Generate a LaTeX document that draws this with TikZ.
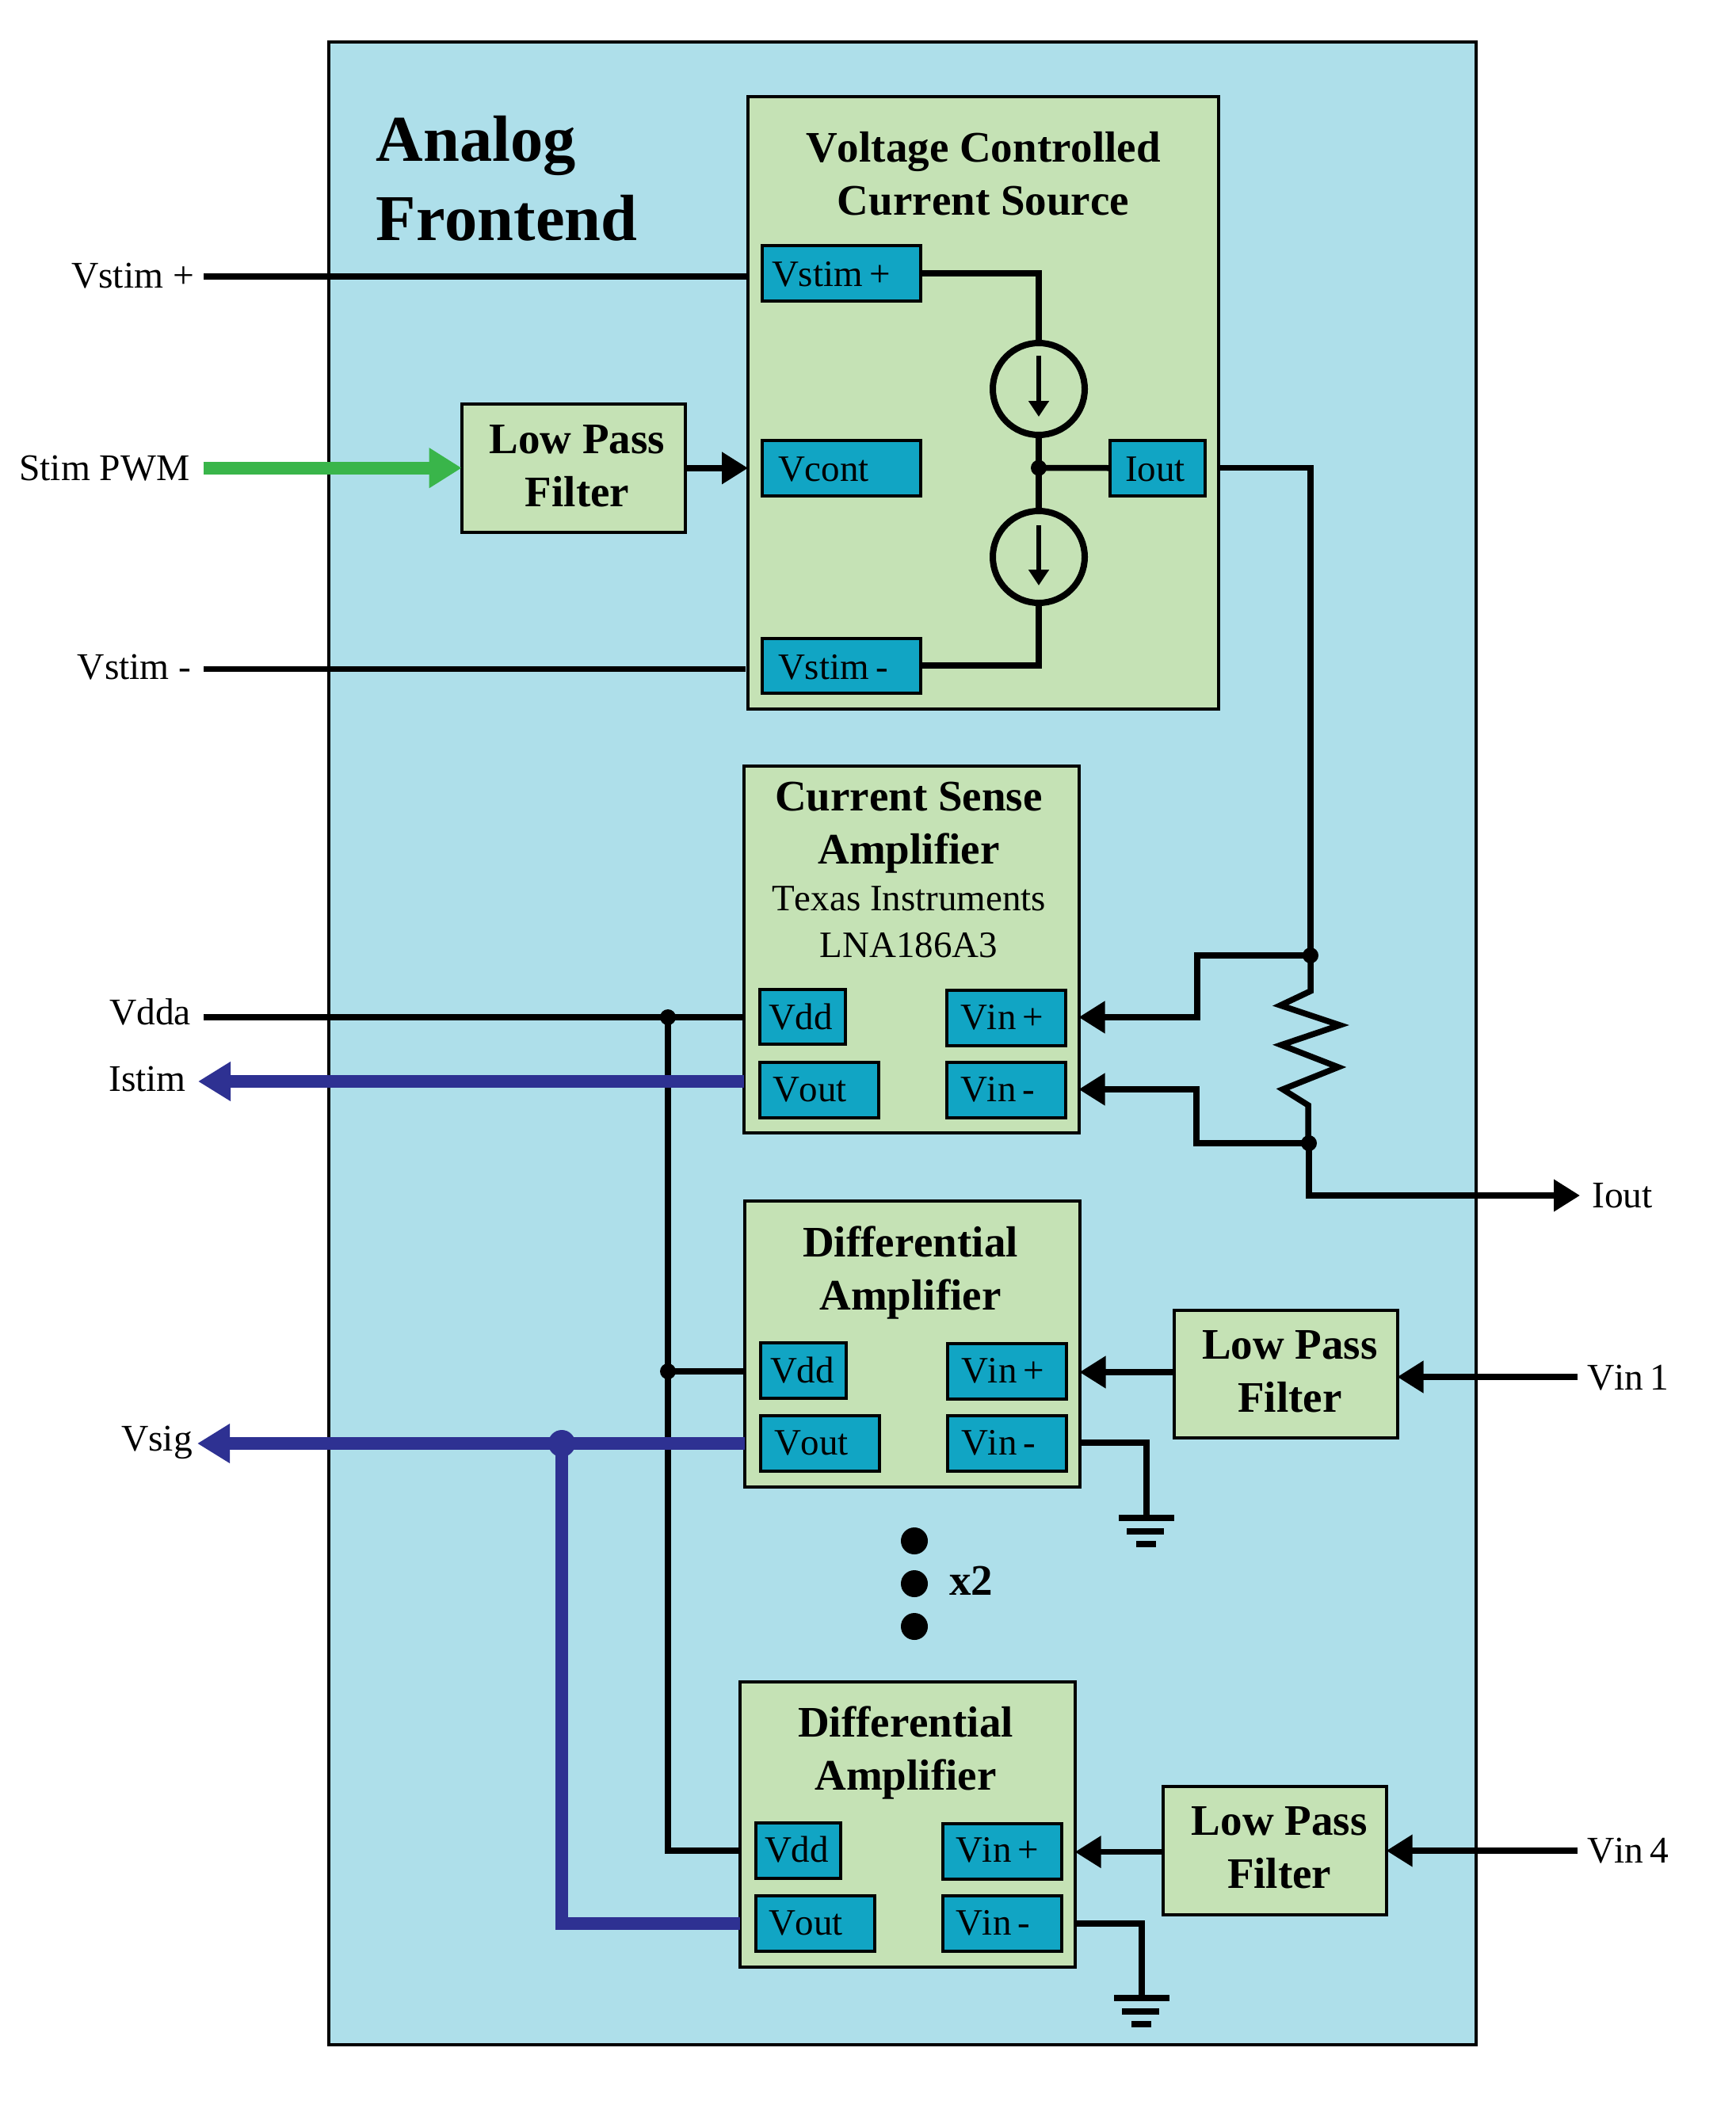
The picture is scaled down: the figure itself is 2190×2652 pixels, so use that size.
\documentclass[tikz,border=0pt]{standalone}
\usepackage{fontspec}
\setmainfont[Kerning=Off]{Liberation Serif}
\usetikzlibrary{arrows.meta}
\definecolor{bgblue}{HTML}{AEDFEA}
\definecolor{boxgreen}{HTML}{C5E2B5}
\definecolor{portblue}{HTML}{11A5C4}
\definecolor{sigblue}{HTML}{2E3192}
\definecolor{pwmgreen}{HTML}{39B54A}
\tikzset{
  blockbox/.style={draw=black,fill=boxgreen,line width=4pt,anchor=north west,inner sep=0pt,outer sep=0pt},
  portbox/.style={draw=black,fill=portblue,line width=4pt,anchor=north west,inner ysep=0pt,outer sep=0pt,align=left,font=\fontsize{47}{58}\selectfont},
  titlenode/.style={anchor=north,align=center,inner sep=0pt,font=\fontsize{55}{67}\selectfont\bfseries},
  subnode/.style={anchor=north,align=center,inner sep=0pt,font=\fontsize{47}{58.5}\selectfont},
  lab/.style={anchor=base west,inner sep=0pt,font=\fontsize{47.5}{58}\selectfont},
  wire/.style={draw=black,line width=7.5pt,line join=miter},
  arrowwire/.style={wire,-{Triangle[length=33pt,width=39pt]}},
  sigwire/.style={draw=sigblue,line width=16pt,line join=miter},
  sigarrow/.style={sigwire,-{Triangle[length=41pt,width=47pt]}},
  jdot/.style={circle,fill=black,inner sep=0pt,minimum size=20pt,outer sep=0pt},
  sigdot/.style={circle,fill=sigblue,inner sep=0pt,minimum size=34pt,outer sep=0pt},
  bigdot/.style={circle,fill=black,inner sep=0pt,minimum size=34pt,outer sep=0pt},
  srccircle/.style={circle,draw=black,line width=8pt,inner sep=0pt,outer sep=0pt,minimum size=116pt},
  srcarrow/.style={draw=black,line width=5.5pt,-{Triangle[length=20pt,width=25pt]}},
  gndbar/.style={draw=black,line width=8pt},
}
% name, x1, y1, x2, y2, text x, baseline y, text
\newcommand{\portnode}[8]{%
  \pgfmathsetlengthmacro{\prtP}{(#6-#2)*1pt}%
  \pgfmathsetlengthmacro{\prtW}{(#4-#2-2*(#6-#2))*1pt}%
  \pgfmathsetlengthmacro{\prtH}{(#7-#3)*1pt}%
  \pgfmathsetlengthmacro{\prtD}{(#5-#7)*1pt}%
  \node[portbox,inner xsep=\prtP,text width=\prtW,text height=\prtH,text depth=\prtD] (#1) at (#2,#3) {\spaceskip=.18em\relax #8};}
% name, x1, y1, x2, y2
\newcommand{\blocknode}[5]{%
  \pgfmathsetlengthmacro{\blkW}{(#4-#2)*1pt}%
  \pgfmathsetlengthmacro{\blkH}{(#5-#3)*1pt}%
  \node[blockbox,minimum width=\blkW,minimum height=\blkH] (#1) at (#2,#3) {};}
% name, centre x, first baseline y, text
\newcommand{\blocktitle}[4]{\node[titlenode] (#1) at ({#2},{#3-46.9}) {\strut #4};}
% ground symbol: x, y of first bar
\newcommand{\gndsym}[2]{%
  \draw[gndbar] (#1-35,#2) -- (#1+35,#2);
  \draw[gndbar] (#1-25,#2+17.7) -- (#1+22,#2+17.7);
  \draw[gndbar] (#1-13,#2+33.5) -- (#1+12,#2+33.5);}
\begin{document}
\begin{tikzpicture}[x=1pt,y=-1pt]
\useasboundingbox (0,0) rectangle (2190,2652);
% outer frame
\pgfmathsetlengthmacro{\blkW}{1448pt}\pgfmathsetlengthmacro{\blkH}{2528pt}
\node[blockbox,fill=bgblue,minimum width=\blkW,minimum height=\blkH] (afe) at (415,53) {};
\node[anchor=north west,align=left,inner sep=0pt,font=\fontsize{82.5}{100}\selectfont\bfseries] (afetitle) at (474.5,133.5) {\strut Analog\\Frontend};

% blocks
\blocknode{vccs}{944}{122.5}{1538}{895}
\blocknode{lpfa}{582.7}{510}{865}{671.7}
\blocknode{csa}{939}{967}{1361.5}{1430}
\blocknode{ampa}{940}{1516}{1362.5}{1877}
\blocknode{lpfb}{1481.5}{1654}{1763.5}{1815}
\blocknode{ampb}{934}{2123}{1356.7}{2482.7}
\blocknode{lpfc}{1468}{2255}{1749.7}{2416.6}

% titles
\blocktitle{t-vccs}{1241}{204}{Voltage Controlled\\Current Source}
\blocktitle{t-lpfa}{728.5}{572}{Low Pass\\Filter}
\blocktitle{t-csa}{1147}{1023}{Current Sense\\Amplifier}
\node[subnode] (t-csa2) at (1147,1108.5) {\strut Texas Instruments\\LNA186A3};
\blocktitle{t-ampa}{1149}{1586}{Differential\\Amplifier}
\blocktitle{t-lpfb}{1628}{1715}{Low Pass\\Filter}
\blocktitle{t-ampb}{1143}{2192.5}{Differential\\Amplifier}
\blocktitle{t-lpfc}{1614.7}{2316.7}{Low Pass\\Filter}

% ports
\portnode{vsp}{962}{310}{1162}{379.5}{974}{361}{Vstim +}
\portnode{vcont}{962}{556}{1162}{625.5}{982}{607}{Vcont}
\portnode{vsm}{962}{805.5}{1162}{874.5}{982}{857}{Vstim -}
\portnode{iout}{1401}{556}{1520.5}{625.5}{1420}{607}{Iout}
\portnode{cvdd}{958.5}{1249}{1067}{1318}{970}{1299}{Vdd}
\portnode{cvp}{1195}{1250}{1345}{1319.5}{1212}{1299}{Vin +}
\portnode{cvout}{958.5}{1340.5}{1108.5}{1410.5}{975}{1390}{Vout}
\portnode{cvm}{1195}{1340.5}{1345}{1410.5}{1212}{1390}{Vin -}
\portnode{avdd}{960}{1695}{1068}{1765}{972}{1745}{Vdd}
\portnode{avp}{1196}{1696}{1346}{1766}{1213}{1745}{Vin +}
\portnode{avout}{960}{1787}{1110}{1857}{977}{1836}{Vout}
\portnode{avm}{1196}{1787}{1346}{1857}{1213}{1836}{Vin -}
\portnode{bvdd}{953.5}{2301}{1061}{2371}{965}{2350}{Vdd}
\portnode{bvp}{1189.5}{2302}{1339.5}{2372}{1206}{2350}{Vin +}
\portnode{bvout}{953.5}{2393}{1103.5}{2463}{970}{2442}{Vout}
\portnode{bvm}{1189.5}{2393}{1339.5}{2463}{1206}{2442}{Vin -}

% outside labels
\node[lab] (l-vsp) at (90,363) {Vstim +};
\node[lab] (l-pwm) at (24,606.5) {Stim PWM};
\node[lab] (l-vsm) at (97.6,857.5) {Vstim -};
\node[lab] (l-vdda) at (138,1293) {Vdda};
\node[lab] (l-istim) at (137,1377) {Istim};
\node[lab] (l-vsig) at (153,1831) {Vsig};
\node[lab] (l-iout) at (2009,1524) {Iout};
\node[lab] (l-vin1) at (2003,1754) {\spaceskip=.18em\relax Vin 1};
\node[lab] (l-vin4) at (2003,2351) {\spaceskip=.18em\relax Vin 4};
\node[anchor=base west,inner sep=0pt,font=\fontsize{55}{67}\selectfont\bfseries] (l-x2) at (1198,2013) {x2};

% free ends and junctions
\coordinate (vsp-in) at (257,349);
\coordinate (pwm-in) at (256.6,590.7);
\coordinate (vsm-in) at (257,844.3);
\coordinate (vsm-end) at (941,844.3);
\coordinate (vdda-in) at (257,1284);
\coordinate (istim-out) at (250,1365);
\coordinate (vsig-out) at (249,1822);
\coordinate (iout-out) at (1994,1509);
\coordinate (vin1-in) at (1991,1738);
\coordinate (vin4-in) at (1991,2336);
\coordinate (gnda) at (1447,1915);
\coordinate (gndb) at (1441,2521);
\coordinate (vddj0) at (843,1284);
\coordinate (vddj1) at (843,1731);
\coordinate (vddb) at (843,2336);
\coordinate (sj) at (709,1822);
\coordinate (sjb) at (709,2428);
\coordinate (rtop) at (1654,1206);
\coordinate (rbot) at (1652,1443);
\coordinate (j0) at (1311,590.6);

% current sources
\node[srccircle] (srcu) at (1311,491) {};
\node[srccircle] (srcd) at (1311,703) {};
\draw[srcarrow] ([yshift=42pt]srcu.center) -- ([yshift=-35pt]srcu.center);
\draw[srcarrow] ([yshift=40pt]srcd.center) -- ([yshift=-36pt]srcd.center);

% black connectors
\draw[wire] (vsp-in) -- (vsp-in -| vccs.west);
\draw[wire] (vsm-in) -- (vsm-end);
\draw[wire] (vsp.east) -| (srcu.north);
\draw[wire] (vsm.east) -| (srcd.south);
\draw[wire] (srcu.south) -- (j0) -- (srcd.north);
\draw[wire] (j0) -- (iout.west);
\draw[wire] (vccs.east |- j0) -| (rtop);
\draw[arrowwire] (lpfa.east) -- (lpfa.east -| vccs.west);
\draw[wire] (vdda-in) -- (csa.west |- vdda-in);
\draw[wire] (vddj0) -- (vddb) -- (ampb.west |- vddb);
\draw[wire] (vddj1) -- (ampa.west |- vddj1);
\draw[arrowwire] (rtop) -| (1511,1284) -- (csa.east |- 1511,1284);
\draw[arrowwire] (rbot) -| (1510,1375) -- (csa.east |- 1510,1375);
\draw[wire] (rtop) -- (1654,1251) -- (1616,1269) -- (1691,1294) -- (1617,1319) -- (1689,1347) -- (1619,1375) -- (1651,1395) -- (1651,1443);
\draw[arrowwire] (rbot) |- (iout-out);
\draw[arrowwire] (lpfb.west |- 0,1732) -- (ampa.east |- 0,1732);
\draw[arrowwire] (vin1-in) -- (vin1-in -| lpfb.east);
\draw[arrowwire] (lpfc.west |- 0,2337.6) -- (ampb.east |- 0,2337.6);
\draw[arrowwire] (vin4-in) -- (vin4-in -| lpfc.east);
\draw[wire] (ampa.east |- 0,1821) -| (gnda);
\draw[wire] (ampb.east |- 0,2428) -| (gndb);
\gndsym{1447}{1915.5}
\gndsym{1441}{2521.5}

% coloured connectors
\draw[pwmgreen,line width=16pt,-{Triangle[length=41pt,width=48pt]}] (pwm-in) -- (pwm-in -| lpfa.west);
\draw[sigarrow] (csa.west |- istim-out) -- (istim-out);
\draw[sigarrow] (ampa.west |- vsig-out) -- (vsig-out);
\draw[sigwire] (sj) -- (sjb) -- (ampb.west |- sjb);

% junction dots
\node[jdot] (d0) at (j0) {};
\node[jdot] (d1) at (vddj0) {};
\node[jdot] (d2) at (vddj1) {};
\node[jdot] (d3) at (rtop) {};
\node[jdot] (d4) at (rbot) {};
\node[sigdot] (d5) at (sj) {};

% ellipsis dots
\node[bigdot] (e1) at (1154,1945) {};
\node[bigdot] (e2) at (1154,1999) {};
\node[bigdot] (e3) at (1154,2053) {};
\end{tikzpicture}
\end{document}
